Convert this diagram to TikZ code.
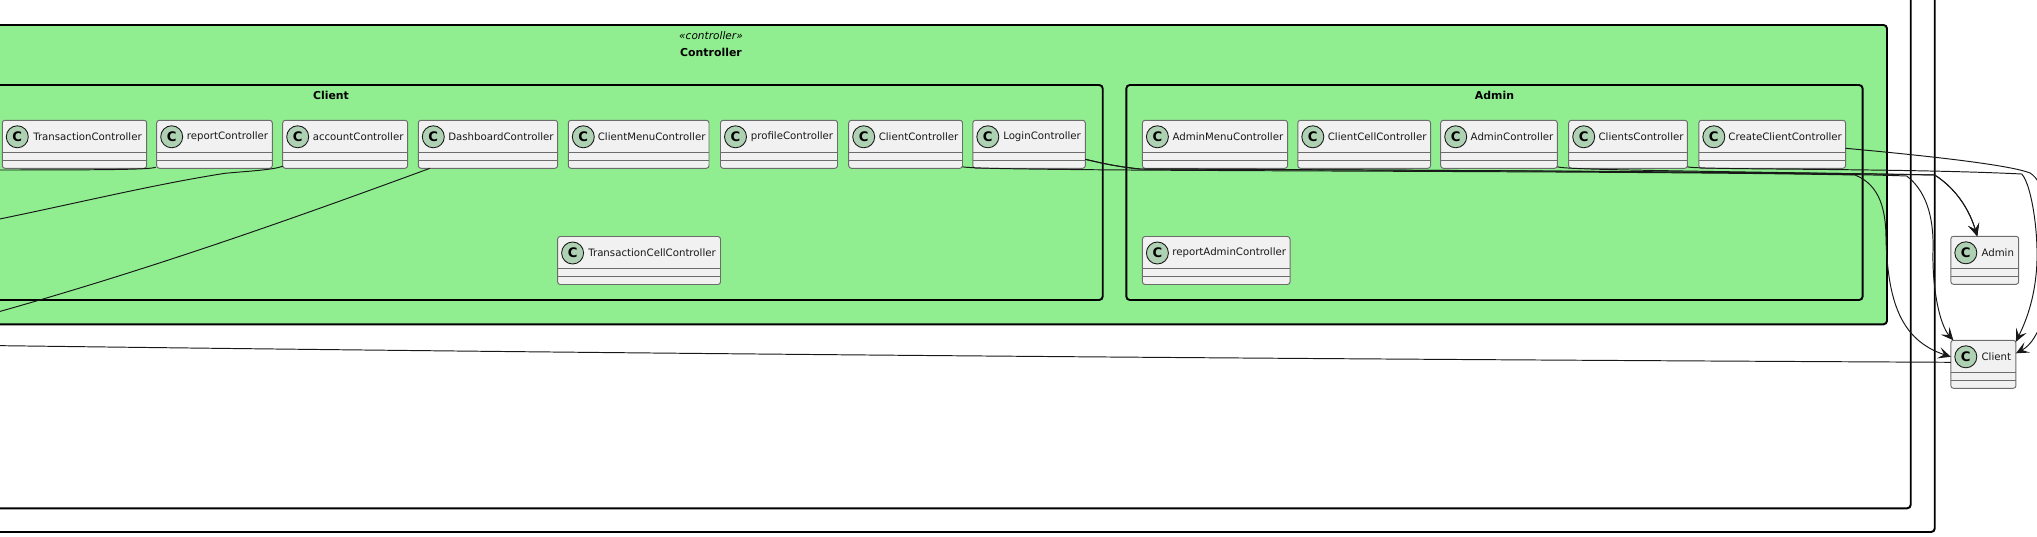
\documentclass[tikz,border=0pt]{standalone}
\usepackage{fontspec}
\setmainfont{DejaVu Sans}
\usetikzlibrary{arrows.meta,positioning,calc}
\definecolor{pkggreen}{HTML}{90EE90}
\definecolor{classfill}{HTML}{F1F1F1}
\definecolor{markfill}{HTML}{ADD1B2}
\definecolor{inkdark}{HTML}{181818}
\tikzset{
  x=0.02cm,y=-0.02cm,
  pkgbox/.style={draw=black,line width=1.1pt,rounded corners=2pt},
  classbox/.style={draw=gray!85!black,fill=classfill,line width=0.55pt,rounded corners=1.5pt,
    anchor=north west,minimum height=0.96cm,inner sep=0pt,outer sep=0pt},
  classline/.style={draw=gray!85!black,line width=0.55pt},
  classmark/.style={circle,draw=inkdark,fill=markfill,line width=0.5pt,minimum size=0.44cm,inner sep=0pt,
    font=\fontsize{7.5pt}{8pt}\selectfont\bfseries},
  classname/.style={inner sep=0pt,font=\fontsize{5.8pt}{7pt}\selectfont,text=inkdark},
  pkgtitle/.style={inner sep=0pt,font=\fontsize{6.2pt}{7pt}\selectfont\bfseries},
  rel/.style={draw=inkdark,line width=0.55pt},
  relto/.style={rel,-{Stealth[length=7.2pt,width=6.6pt,inset=3.2pt]}},
}
% name, left, top, width, text
\newcommand{\classnode}[5]{
  \node[classbox,minimum width=#4*0.02cm] (#1) at (#2,#3) {};
  \draw[classline] ([yshift=-0.64cm]#1.north west) -- ([yshift=-0.64cm]#1.north east);
  \draw[classline] ([yshift=-0.80cm]#1.north west) -- ([yshift=-0.80cm]#1.north east);
  \node[classmark] (#1mark) at ([xshift=0.30cm,yshift=-0.33cm]#1.north west) {C};
  \node[classname] (#1name) at ($(#1.north west)!0.5!(#1.north east)+(13,16)$) {#5};
}
\begin{document}
\begin{tikzpicture}
\useasboundingbox (0,0) rectangle (2037,537);
% outer packages, open on the left and at the top
\draw[pkgbox] (-20,532) -- (1934.7,532) -- (1934.7,-20);
\draw[pkgbox] (-20,508.3) -- (1910.7,508.3) -- (1910.7,-20);
% controller package
\draw[pkgbox,fill=pkggreen] (-20,25) rectangle (1887,324.3);
\node[inner sep=0pt,font=\fontsize{6pt}{7pt}\selectfont\itshape] (ctrlstereo) at (711,35.3) {«controller»};
\node[pkgtitle] (ctrltitle) at (711,52.3) {Controller};
\draw[pkgbox] (-20,85) rectangle (1102.7,300);
\node[pkgtitle] (clienttitle) at (331,95.3) {Client};
\draw[pkgbox] (1126.3,85) rectangle (1862.6,300);
\node[pkgtitle] (admintitle) at (1494.5,95.3) {Admin};
% client package classes
\classnode{transaction}{2.3}{120.3}{144.4}{TransactionController}
\classnode{report}{156.7}{120.3}{115.6}{reportController}
\classnode{account}{282.7}{120.3}{124.9}{accountController}
\classnode{dashboard}{418.3}{120.3}{139.3}{DashboardController}
\classnode{clientmenu}{568.3}{120.3}{140.7}{ClientMenuController}
\classnode{profile}{720.5}{120.3}{117}{profileController}
\classnode{clientctrl}{848.7}{120.3}{113.8}{ClientController}
\classnode{login}{972.8}{120.3}{112.5}{LoginController}
\classnode{transcell}{557.6}{236.5}{162.9}{TransactionCellController}
% admin package classes
\classnode{adminmenu}{1142.4}{120.3}{145.1}{AdminMenuController}
\classnode{clientcell}{1297.8}{120.3}{132.7}{ClientCellController}
\classnode{adminctrl}{1440.7}{120.3}{116.6}{AdminController}
\classnode{clientsctrl}{1568.7}{120.3}{118.7}{ClientsController}
\classnode{createclient}{1698.8}{120.3}{146.7}{CreateClientController}
\classnode{reportadmin}{1142.4}{236.5}{147.6}{reportAdminController}
% model classes
\classnode{admin}{1950.8}{236.3}{67.9}{Admin}
\classnode{client}{1950.8}{340.3}{65.1}{Client}
% free ends at the picture edge
\coordinate (leftdash) at (-20,317);
\coordinate (leftacc) at (-20,223);
\coordinate (leftrep) at (-20,170);
\coordinate (leftcli) at (-20,345.4);
% relations
\draw[rel] (dashboard.south west) ++(11.7,0) .. controls (300,216) and (150,270) .. (leftdash);
\draw[rel] (account.south west) ++(0,-2) .. controls (272,170) and (250,171) .. (225,173.3)
  .. controls (150,185) and (70,205) .. (leftacc);
\draw[rel] (report.south west) ++(-1,-1) .. controls (148,169.5) and (120,170) .. (leftrep);
\draw[rel] (client.west) ++(0,-2) .. controls (1500,360) and (800,356) .. (leftcli);
\draw[relto] (clientctrl.south east) ++(0,-1.5) .. controls (985,172) and (1600,170) .. (1855,175)
  .. controls (1880,185) and (1886,210) .. (1886,240)
  .. controls (1888,300) and (1900,340) .. ([yshift=0.15cm]client.west);
\draw[relto] (login.east) ++(0,15) .. controls (1105,164) and (1120,167) .. (1140,169)
  .. controls (1400,170) and (1800,172) .. (1906.7,176)
  .. controls (1925,190) and (1934,215) .. (1933,250)
  .. controls (1932,290) and (1940,325) .. ([xshift=0.05cm]client.north west);
\draw[relto] (login.east) ++(0,15) .. controls (1105,164) and (1120,167) .. (1140,169)
  .. controls (1400,170) and (1800,172) .. (1934.7,175)
  .. controls (1958,190) and (1970,212) .. ([xshift=-0.15cm]admin.north);
\draw[relto] (adminctrl.south east) ++(0,-1.5) .. controls (1565,170) and (1700,171) .. (1934.7,175)
  .. controls (1958,190) and (1970,212) .. ([xshift=-0.15cm]admin.north);
\draw[relto] (clientsctrl.south east) ++(0,-1.5) .. controls (1695,170) and (1900,168) .. (2021.7,174)
  .. controls (2032,185) and (2040,240) .. (2036,275)
  .. controls (2033,305) and (2024,325) .. ([yshift=-0.03cm]client.north east);
\draw[relto] (createclient.east) ++(0,4) .. controls (1930,156) and (2010,165) .. (2030,173)
  .. controls (2060,190) and (2060,330) .. ([yshift=0.22cm]client.east);
\end{tikzpicture}
\end{document}
